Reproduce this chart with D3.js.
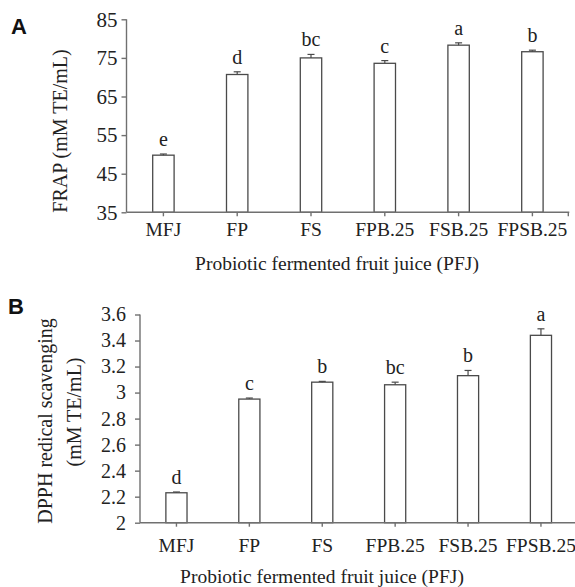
<!DOCTYPE html>
<html>
<head>
<meta charset="utf-8">
<script src="https://cdn.jsdelivr.net/npm/d3@7"></script>
<style>
  body { margin: 0; background: #fff; }
  .container svg { display: block; }
  text { font-family: "Liberation Serif", "Times New Roman", serif; fill: #222; }
</style>
</head>
<body>
<div class="container"></div>
<script>
// data
var categories = ['MFJ', 'FP', 'FS', 'FPB.25', 'FSB.25', 'FPSB.25'];

var frapValues = [49.8, 70.7, 75.0, 73.6, 78.3, 76.6];
var frapErrors = [0.3, 0.7, 0.9, 0.7, 0.6, 0.4];
var frapLetters = ['e', 'd', 'bc', 'c', 'a', 'b'];
var frapTicks = [35, 45, 55, 65, 75, 85];

var dpphValues = [2.23, 2.95, 3.08, 3.06, 3.13, 3.44];
var dpphErrors = [0.006, 0.008, 0.006, 0.02, 0.04, 0.05];
var dpphLetters = ['d', 'c', 'b', 'bc', 'b', 'a'];
var dpphTicks = [2, 2.2, 2.4, 2.6, 2.8, 3, 3.2, 3.4, 3.6];

var xTitle = 'Probiotic fermented fruit juice (PFJ)';

const WIDTH = 575;
const HEIGHT = 587;
const AXIS_COLOR = '#707070';
const BAR_COLOR = '#4a4a4a';

var svg = d3.select('.container').append('svg')
    .attr('width', WIDTH)
    .attr('height', HEIGHT);

var drawPanel = function (p) {
    var rows = categories.map(function (c, i) {
        return { cat: c, value: p.values[i], err: p.errors[i], letter: p.letters[i] };
    });

    var xScale = d3.scaleBand()
        .domain(categories)
        .range([p.left, p.right])
        .paddingInner(0.71)
        .paddingOuter(0.355);

    var yScale = d3.scaleLinear()
        .domain([p.ticks[0], p.ticks[p.ticks.length - 1]])
        .range([p.bottom, p.top]);

    var g = svg.append('g');

    // bars
    g.selectAll('rect.bar').data(rows)
        .enter().append('rect')
        .attr('class', 'bar')
        .attr('x', function (d) { return xScale(d.cat); })
        .attr('y', function (d) { return yScale(d.value); })
        .attr('width', xScale.bandwidth())
        .attr('height', function (d) { return yScale(p.ticks[0]) - yScale(d.value); })
        .attr('fill', '#fff')
        .attr('stroke', BAR_COLOR)
        .attr('stroke-width', 1.3);

    // error bars (upper half only)
    var cx = function (d) { return xScale(d.cat) + xScale.bandwidth() / 2; };
    g.selectAll('line.err').data(rows)
        .enter().append('line')
        .attr('class', 'err')
        .attr('x1', cx).attr('x2', cx)
        .attr('y1', function (d) { return yScale(d.value); })
        .attr('y2', function (d) { return yScale(d.value + d.err); })
        .attr('stroke', BAR_COLOR).attr('stroke-width', 1.2);
    g.selectAll('line.cap').data(rows)
        .enter().append('line')
        .attr('class', 'cap')
        .attr('x1', function (d) { return cx(d) - 3.5; })
        .attr('x2', function (d) { return cx(d) + 3.5; })
        .attr('y1', function (d) { return yScale(d.value + d.err); })
        .attr('y2', function (d) { return yScale(d.value + d.err); })
        .attr('stroke', BAR_COLOR).attr('stroke-width', 1.2);

    // significance letters
    g.selectAll('text.letter').data(rows)
        .enter().append('text')
        .attr('class', 'letter')
        .attr('x', cx)
        .attr('y', function (d) { return yScale(d.value + d.err) - 8; })
        .attr('text-anchor', 'middle')
        .style('font-size', '20px')
        .text(function (d) { return d.letter; });

    // y axis
    var yAxis = d3.axisLeft(yScale)
        .tickValues(p.ticks)
        .tickSize(5)
        .tickPadding(p.tickPad)
        .tickFormat(function (d) { return String(+d.toFixed(1)); });
    var ya = g.append('g')
        .attr('transform', 'translate(' + p.left + ',0)')
        .call(yAxis);
    ya.selectAll('path, line').attr('stroke', AXIS_COLOR).attr('stroke-width', 1.4);
    ya.select('.domain').attr('d', 'M0,' + p.bottom + 'V' + p.top);
    ya.selectAll('text').style('font-size', p.tickFont).attr('fill', '#222')
        .style('font-family', '"Liberation Serif", serif');

    // x axis
    var xAxis = d3.axisBottom(xScale).tickSize(4).tickSizeOuter(0).tickPadding(p.catPad);
    var xa = g.append('g')
        .attr('transform', 'translate(0,' + p.bottom + ')')
        .call(xAxis);
    xa.selectAll('path, line').attr('stroke', AXIS_COLOR).attr('stroke-width', 1.4);
    xa.select('.domain').attr('d', 'M' + p.left + ',0H' + p.right);
    xa.append('line')
        .attr('x1', p.right - 1).attr('x2', p.right - 1)
        .attr('y1', 0).attr('y2', 4)
        .attr('stroke', AXIS_COLOR).attr('stroke-width', 1.4);
    xa.selectAll('text').style('font-size', '19.5px').attr('fill', '#222')
        .style('font-family', '"Liberation Serif", serif');

    // x title
    g.append('text')
        .attr('x', p.xTitleX)
        .attr('y', p.xTitleY)
        .attr('text-anchor', 'middle')
        .style('font-size', '19.5px')
        .text(xTitle);

    // y title (one or more lines)
    p.yTitle.forEach(function (line, i) {
        g.append('text')
            .attr('transform', 'translate(' + p.yTitleX[i] + ',' + p.yTitleY[i] + ') rotate(-90)')
            .attr('text-anchor', 'middle')
            .style('font-size', '20px')
            .text(line);
    });

    // panel letter
    g.append('text')
        .attr('x', p.labelX)
        .attr('y', p.labelY)
        .style('font-family', '"Liberation Sans", Arial, sans-serif')
        .style('font-weight', 'bold')
        .style('font-size', '22px')
        .style('fill', '#111')
        .text(p.label);
};

drawPanel({
    values: frapValues, errors: frapErrors, letters: frapLetters, ticks: frapTicks,
    left: 126.5, right: 569.3, top: 19.3, bottom: 212.3,
    tickPad: 4, catPad: 6, tickFont: '21px',
    xTitleX: 337, xTitleY: 270,
    yTitle: ['FRAP (mM TE/mL)'], yTitleX: [67], yTitleY: [131],
    label: 'A', labelX: 11, labelY: 34
});

drawPanel({
    values: dpphValues, errors: dpphErrors, letters: dpphLetters, ticks: dpphTicks,
    left: 140, right: 577.4, top: 314.5, bottom: 522.7,
    tickPad: 9, catPad: 11, tickFont: '20px',
    xTitleX: 322, xTitleY: 583,
    yTitle: ['DPPH redical scavenging', '(mM TE/mL)'], yTitleX: [52, 81], yTitleY: [421, 412],
    label: 'B', labelX: 8, labelY: 314
});
</script>
</body>
</html>
